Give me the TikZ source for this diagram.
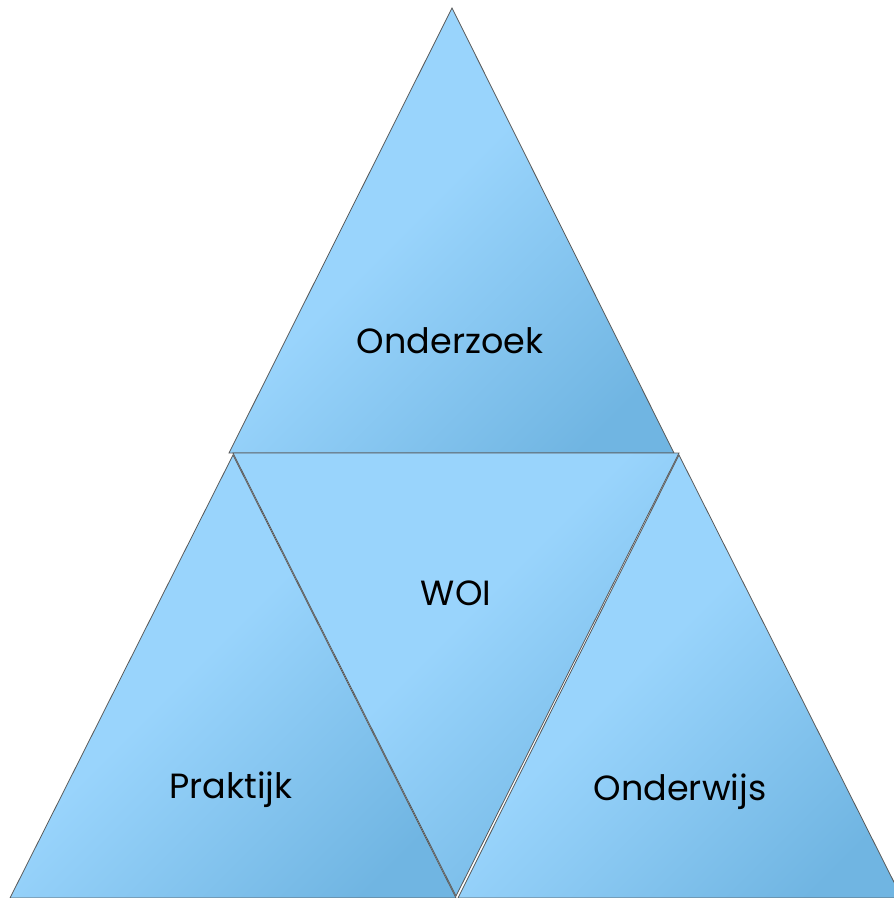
\documentclass[tikz,border=0pt]{standalone}
\usepackage{fontspec}
\setmainfont{Poppins}
\definecolor{lite}{HTML}{99D4FC}
\definecolor{dark}{HTML}{70B5E2}
\pgfdeclareverticalshading{pyramid}{100bp}{color(0bp)=(dark); color(22bp)=(dark); color(54bp)=(lite); color(100bp)=(lite)}
\tikzset{
	tri/.style={draw=black!65, line width=0.8pt, line join=miter,
		shading=pyramid, shading angle=45},
	lbl/.style={anchor=base, font=\fontsize{35}{38}\selectfont, inner sep=0pt}
}
\begin{document}
\begin{tikzpicture}[x=1pt, y=-1pt]
	\useasboundingbox (0,0) rectangle (894,898);
	\begin{scope}
	\clip (0,0) rectangle (894,898);
	% the four triangles
	\shade[tri] (452,8) -- (229,453) -- (674,453) -- cycle;
	\shade[tri] (233,453) -- (679,453) -- (456,896) -- cycle;
	\shade[tri] (233,455) -- (10,898) -- (456,898) -- cycle;
	\shade[tri] (679,455) -- (458,898) -- (902,898) -- cycle;
	\end{scope}
	\node (onderzoek) at (450,353)	[lbl]	{Onderzoek};
	\node (woi)       at (456,605)	[lbl]	{WOI};
	\node (praktijk)  at (231,798)	[lbl]	{Praktijk};
	\node (onderwijs) at (680,800)	[lbl]	{Onderwijs};
\end{tikzpicture}
\end{document}
